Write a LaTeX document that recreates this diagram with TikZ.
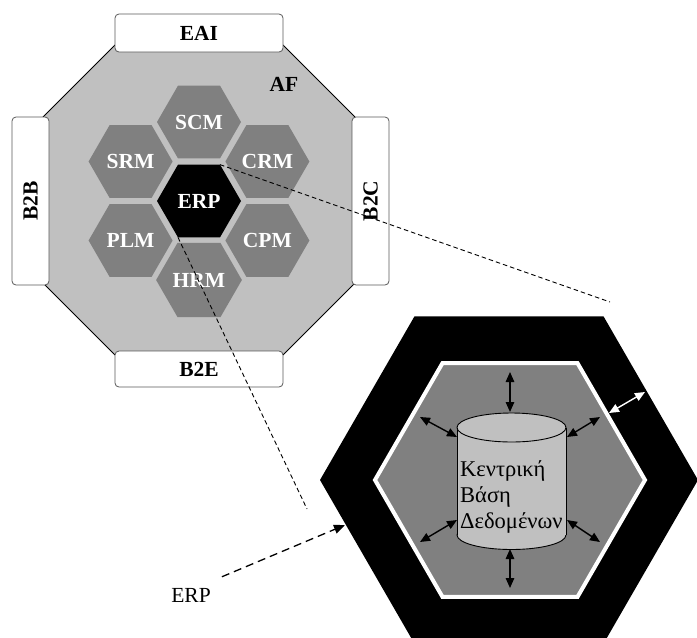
\documentclass[tikz,border=0pt]{standalone}
\usepackage{fontspec}
\setmainfont{Liberation Serif}
\usetikzlibrary{shapes.geometric,arrows.meta}
\definecolor{lightgrey}{HTML}{C0C0C0}
\definecolor{midgrey}{HTML}{808080}
\begin{document}
\begin{tikzpicture}[x=1pt,y=-1pt,
  labelfont/.style={font=\fontsize{21.5}{21.5}\selectfont\bfseries},
  hexcell/.style={regular polygon, regular polygon sides=6, minimum size=84pt,
    inner sep=0pt, outer sep=0pt, fill=midgrey, text=white, labelfont},
  portbox/.style={rectangle, rounded corners=4pt, draw=black!65, line width=0.8pt,
    fill=white, inner sep=0pt, labelfont},
  zoomline/.style={dash pattern=on 4.5pt off 3pt, line width=0.9pt},
  flow/.style={{Triangle[length=10pt,width=8.5pt]}-{Triangle[length=10pt,width=8.5pt]}, line width=1.4pt}
]
\useasboundingbox (0,0) rectangle (697,638);

% application framework (octagon)
\filldraw[fill=lightgrey, draw=black, line width=0.8pt]
  (43,117) -- (115,45) -- (283,45) -- (355,117) -- (355,283)
  -- (283,355) -- (115,355) -- (43,283) -- cycle;

% ports on the four sides
\node[portbox, minimum width=168pt, minimum height=38pt] (eai) at (199,33) {EAI};
\node[portbox, minimum width=168pt, minimum height=36pt] (b2e) at (199,369) {B2E};
\node[portbox, rotate=90, minimum width=168pt, minimum height=37pt] (b2b) at (30.5,201) {B2B};
\node[portbox, rotate=90, minimum width=168pt, minimum height=37pt] (b2c) at (370.5,201) {B2C};

\node[labelfont, inner sep=0pt] (af) at (284,84) {AF};

% application modules
\node[hexcell] (scm) at (199,122) {SCM};
\node[hexcell] (srm) at (130.6,161.5) {SRM};
\node[hexcell] (crm) at (267.4,161.5) {CRM};
\node[hexcell, fill=black] (erp) at (199,201) {ERP};
\node[hexcell] (plm) at (130.6,240.5) {PLM};
\node[hexcell] (cpm) at (267.4,240.5) {CPM};
\node[hexcell] (hrm) at (199,280) {HRM};

% enlarged ERP module
\node[regular polygon, regular polygon sides=6, minimum size=378pt,
  inner sep=0pt, outer sep=0pt, fill=black] (erpouter) at (509,480) {};
\node[regular polygon, regular polygon sides=6, minimum size=270pt,
  inner sep=0pt, outer sep=0pt, fill=midgrey, draw=white, line width=4pt] (erpinner) at (510,480) {};

% zoom lines
\coordinate (zoomA) at (610,302);
\coordinate (zoomB) at (307,509);
\draw[zoomline] (erp.60) -- (zoomA);
\draw[zoomline] (erp.240) -- (zoomB);

% central database cylinder
\coordinate (dbtop) at (511.5,427.5);
\coordinate (dbbot) at (511.5,535);
\filldraw[fill=lightgrey, draw=black, line width=0.9pt] (dbbot) ellipse [x radius=54.5, y radius=14.5];
\fill[lightgrey] (457,427.5) rectangle (566,535);
\draw[line width=0.9pt] (457,427.5) -- (457,535) (566,427.5) -- (566,535);
\filldraw[fill=lightgrey, draw=black, line width=0.9pt] (dbtop) ellipse [x radius=54.5, y radius=14.5];
\node[align=left, anchor=west, inner sep=0pt, font=\fontsize{22.5}{26}\selectfont] (dbtext) at (460,497)
  {Κεντρική\\Βάση\\Δεδομένων};

% data exchange arrows
\coordinate (nA) at (510,372);  \coordinate (nB) at (510,412);
\coordinate (sA) at (510,549);  \coordinate (sB) at (510,588);
\coordinate (nwA) at (420,417); \coordinate (nwB) at (457,437);
\coordinate (neA) at (567,437); \coordinate (neB) at (600,417);
\coordinate (swA) at (420,542); \coordinate (swB) at (457,520);
\coordinate (seA) at (567,520); \coordinate (seB) at (600,542);
\coordinate (exA) at (609,413); \coordinate (exB) at (645,392);
\draw[flow] (nA) -- (nB);
\draw[flow] (sA) -- (sB);
\draw[flow] (nwA) -- (nwB);
\draw[flow] (neA) -- (neB);
\draw[flow] (swA) -- (swB);
\draw[flow] (seA) -- (seB);
\draw[flow, white] (exA) -- (exB);

% caption of the enlarged module
\node[inner sep=0pt, font=\fontsize{21.5}{21.5}\selectfont] (erplabel) at (191,595) {ERP};
\coordinate (erpedge) at (345,525);
\draw[dash pattern=on 8pt off 5pt, line width=1.3pt, -{Triangle[length=11pt,width=9pt]}]
  (erplabel.north east) ++(11pt,11pt) -- (erpedge);
\end{tikzpicture}
\end{document}
